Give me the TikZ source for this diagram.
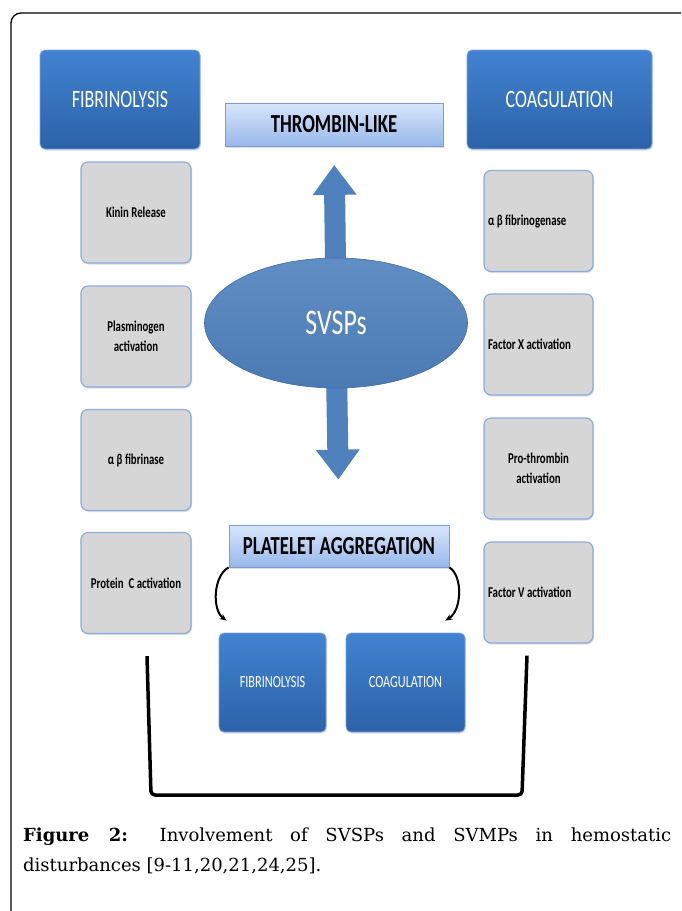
\documentclass[tikz,border=0pt]{standalone}
\usepackage{fontspec}
\setmainfont{DejaVu Serif}
\newfontfamily\boxfont[FakeStretch=0.72]{Carlito}
\usetikzlibrary{positioning,arrows.meta,shapes.geometric,shadows,calc}
\usepackage{xcolor}
\definecolor{hdtop}{RGB}{66,131,210}
\definecolor{hdbot}{RGB}{44,98,168}
\definecolor{hdedge}{RGB}{125,165,222}
\definecolor{actfill}{RGB}{214,214,214}
\definecolor{actedge}{RGB}{140,172,222}
\definecolor{lbtop}{RGB}{216,230,252}
\definecolor{lbbot}{RGB}{152,184,234}
\definecolor{lbedge}{RGB}{122,156,212}
\definecolor{svblue}{RGB}{79,129,189}
\definecolor{svedge}{RGB}{60,105,165}

\tikzset{
  softshadow/.style={drop shadow={opacity=0.25,shadow xshift=1pt,shadow yshift=-1.5pt}},
  header/.style={draw=hdedge,line width=0.8pt,rounded corners=5pt,top color=hdtop,
    bottom color=hdbot,text=white,inner sep=0pt,softshadow},
  actbox/.style={draw=actedge,line width=1.2pt,rounded corners=7pt,fill=actfill,
    minimum width=110pt,minimum height=101pt,inner sep=2pt,align=center,
    font=\boxfont\bfseries\fontsize{15}{20}\selectfont,softshadow},
  actleft/.style={actbox,text width=101pt,align=flush left},
  labelbox/.style={draw=lbedge,line width=0.8pt,top color=lbtop,bottom color=lbbot,
    inner sep=0pt,font=\boxfont\bfseries\fontsize{26}{30}\selectfont,softshadow},
  bigarrow/.style={svblue,line width=21pt,-{Triangle[length=30pt,width=42pt]}},
  curvearrow/.style={black,line width=2pt,-{Stealth[length=7pt,width=6pt]}},
}

\begin{document}
\begin{tikzpicture}[x=1pt,y=-1pt]
\useasboundingbox (0,0) rectangle (681,911);
% frame
\draw[line width=1.3pt,rounded corners=10pt] (11,911) -- (11,13) -- (681,13);
% headers
\node[header,minimum width=160pt,minimum height=99pt,
  font=\boxfont\fontsize{25}{30}\selectfont] (fibhead) at (120,99.5) {FIBRINOLYSIS};
\node[header,minimum width=185pt,minimum height=99pt,
  font=\boxfont\fontsize{25}{30}\selectfont] (coaghead) at (559.5,99.5) {COAGULATION};
\node[labelbox,minimum width=218pt,minimum height=43pt] (thromb) at (334,124.5) {THROMBIN-LIKE};
% fibrinolysis column
\node[actbox] (kinin) at (136,212.5) {Kinin Release};
\node[actbox] (plasm) at (136,336.5) {Plasminogen\\activation};
\node[actbox] (fibase) at (136,460) {α β fibrinase};
\node[actbox,inner sep=0pt] (protc) at (136,583) {Protein~\,C activation};
% coagulation column
\node[actleft,minimum width=109pt] (fibgen) at (538.5,221) {α β fibrinogenase};
\node[actleft,minimum width=109pt] (factx) at (538.5,344.5) {Factor X activation};
\node[actbox,minimum width=109pt] (prothr) at (538.5,468.5) {Pro-thrombin\\activation};
\node[actleft,minimum width=109pt] (factv) at (538.5,592.5) {Factor V activation};
% svsps and its arrows
\draw[bigarrow,shorten >=18.5pt] (336,300) -- (thromb.south);
\node[labelbox,minimum width=220pt,minimum height=42pt] (plat) at (339,546) {PLATELET AGGREGATION};
\draw[bigarrow,shorten >=45pt] (336,340) -- (plat.north);
\node[ellipse,draw=svedge,line width=0.6pt,top color=svblue!90!white,bottom color=svblue!95!black,
  minimum width=263pt,minimum height=130pt,text=white,
  font=\boxfont\fontsize{36}{40}\selectfont] (svsp) at (336,323) {SVSPs};
% platelet aggregation
\node[header,minimum width=107pt,minimum height=99pt,
  font=\boxfont\fontsize{17}{20}\selectfont] (fibs) at (272.5,682.5) {FIBRINOLYSIS};
\node[header,minimum width=119pt,minimum height=99pt,
  font=\boxfont\fontsize{17}{20}\selectfont] (coags) at (405.5,682.5) {COAGULATION};
\draw[curvearrow] (plat.south west) .. controls (213,576) and (212,610) .. ($(fibs.north west)+(8,-12)$);
\draw[curvearrow] (plat.south east) .. controls (463,576) and (462,610) .. ($(coags.north east)+(-20,-12)$);
% bracket
\draw[line width=3.5pt,rounded corners=4pt] ($(protc.south)+(11,22)$) -- (151,795)
  -- (522,795) -- ($(factv.south)+(-11.5,12)$);
% caption
\node[anchor=north west,inner sep=0pt,text width=648pt,align=justify,
  font=\fontsize{18}{30}\selectfont] (caption) at (23,828)
  {\textbf{Figure 2:} Involvement of SVSPs and SVMPs in hemostatic\linebreak
   disturbances [9-11,20,21,24,25].};
\end{tikzpicture}
\end{document}
